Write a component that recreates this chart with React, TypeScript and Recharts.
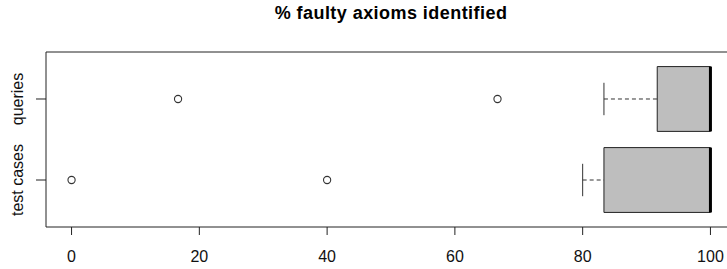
import React from "react";
import {
  ComposedChart,
  XAxis,
  YAxis,
  Scatter,
  ReferenceArea,
  ReferenceLine,
} from "recharts";

// Groups (y positions 1 = bottom, 2 = top, as in R horizontal boxplot)
const groups = ["test cases", "queries"];
const groupPos = [1, 2];
// Five-number summaries: [lowerWhisker, q1, median, q3, upperWhisker]
const lowerWhisker = [80, 83.33];
const q1 = [83.33, 91.67];
const median = [100, 100];
const q3 = [100, 100];
const upperWhisker = [100, 100];
// Outliers
const outlierValues = [
  [0, 40],
  [16.67, 66.67],
];
const xTicks = [0, 20, 40, 60, 80, 100];

const FONT = "'Liberation Sans', Arial, Helvetica, sans-serif";
const BOX_HALF = 0.4;
const CAP_HALF = 0.2;

const outlierData = outlierValues.flatMap((vals, i) =>
  vals.map((v) => ({ x: v, y: groupPos[i] }))
);

const Circle = (props: any) => (
  <circle cx={props.cx} cy={props.cy} r={3.6} fill="none" stroke="#333" strokeWidth={1.1} />
);

const YTick = (props: any) => {
  const { y, payload } = props;
  const idx = groupPos.indexOf(payload.value);
  const label = idx >= 0 ? groups[idx] : "";
  return (
    <text
      x={0}
      y={0}
      transform={`translate(23, ${y}) rotate(-90)`}
      textAnchor="middle"
      fontFamily={FONT}
      fontSize={16}
      fill="#111"
    >
      {label}
    </text>
  );
};

export default function App() {
  return (
    <div
      style={{
        position: "absolute",
        left: 0,
        top: 0,
        width: 727,
        height: 269,
        overflow: "hidden",
        background: "#fff",
      }}
    >
      <div
        style={{
          position: "absolute",
          left: 0,
          width: 782,
          top: 3,
          textAlign: "center",
          fontFamily: FONT,
          fontWeight: "bold",
          fontSize: 18,
          color: "#000",
          letterSpacing: 0.45,
        }}
      >
        % faulty axioms identified
      </div>
      <ComposedChart
        width={760}
        height={269}
        margin={{ top: 52, right: 24, bottom: 0, left: 0 }}
        data={outlierData}
      >
        <XAxis
          type="number"
          dataKey="x"
          domain={[-4, 104]}
          ticks={xTicks}
          axisLine={false}
          tickLine={{ stroke: "#222" }}
          tickSize={8}
          tickMargin={16}
          height={42}
          interval={0}
          allowDataOverflow
          tick={{ fontFamily: FONT, fontSize: 16, fill: "#111" }}
        />
        <YAxis
          type="number"
          dataKey="y"
          domain={[0.42, 2.58]}
          ticks={groupPos}
          axisLine={false}
          tickLine={{ stroke: "#222" }}
          tickSize={10}
          width={46}
          interval={0}
          allowDataOverflow
          tick={<YTick />}
        />
        {/* plot frame */}
        <ReferenceArea
          x1={-4}
          x2={104}
          y1={0.42}
          y2={2.58}
          fill="none"
          stroke="#222"
          strokeWidth={1}
          ifOverflow="visible"
        />
        {groupPos.map((p, i) => (
          <ReferenceArea
            key={`box-${i}`}
            x1={q1[i]}
            x2={q3[i]}
            y1={p - BOX_HALF}
            y2={p + BOX_HALF}
            fill="#bebebe"
            fillOpacity={1}
            stroke="#222"
            strokeWidth={1}
            ifOverflow="visible"
          />
        ))}
        {groupPos.map((p, i) => (
          <ReferenceLine
            key={`lw-${i}`}
            segment={[
              { x: lowerWhisker[i], y: p },
              { x: q1[i], y: p },
            ]}
            stroke="#333"
            strokeDasharray="4 3"
            strokeWidth={1}
            ifOverflow="visible"
          />
        ))}
        {groupPos.map((p, i) => (
          <ReferenceLine
            key={`lc-${i}`}
            segment={[
              { x: lowerWhisker[i], y: p - CAP_HALF },
              { x: lowerWhisker[i], y: p + CAP_HALF },
            ]}
            stroke="#333"
            strokeWidth={1}
            ifOverflow="visible"
          />
        ))}
        {groupPos.map((p, i) =>
          upperWhisker[i] > q3[i] ? (
            <ReferenceLine
              key={`uw-${i}`}
              segment={[
                { x: q3[i], y: p },
                { x: upperWhisker[i], y: p },
              ]}
              stroke="#333"
              strokeDasharray="4 3"
              ifOverflow="visible"
            />
          ) : null
        )}
        {groupPos.map((p, i) => (
          <ReferenceLine
            key={`med-${i}`}
            segment={[
              { x: median[i], y: p - BOX_HALF },
              { x: median[i], y: p + BOX_HALF },
            ]}
            stroke="#000"
            strokeWidth={3}
            ifOverflow="visible"
          />
        ))}
        <Scatter
          data={outlierData}
          dataKey="y"
          shape={<Circle />}
          isAnimationActive={false}
        />
      </ComposedChart>
    </div>
  );
}
